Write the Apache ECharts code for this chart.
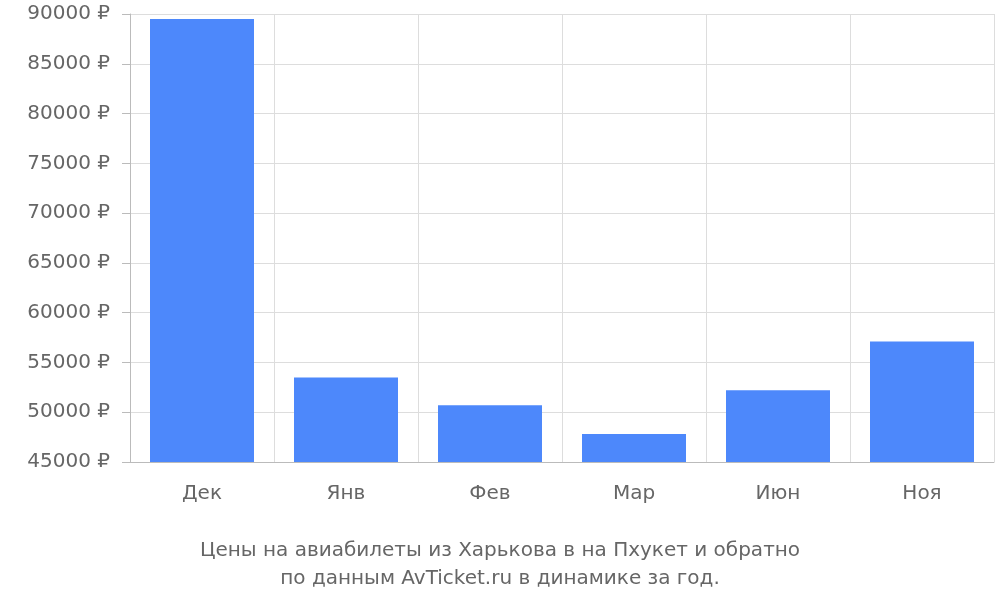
<!DOCTYPE html>
<html><head><meta charset="utf-8">
<script src="https://cdn.jsdelivr.net/npm/echarts@6/dist/echarts.min.js"></script>
<style>html,body{margin:0;padding:0;background:#fff}#c{width:1000px;height:600px}</style>
</head><body><div id="c"></div>
<script>
const categories = ['Дек','Янв','Фев','Мар','Июн','Ноя'];
const prices = [89500, 53500, 50700, 47800, 52200, 57100];
const titleLines = ['Цены на авиабилеты из Харькова в на Пхукет и обратно','по данным AvTicket.ru в динамике за год.'];
const chart = echarts.init(document.getElementById('c'));
const font = 'DejaVu Sans';
chart.setOption({
  animation:false,
  textStyle:{fontFamily:font},
  title:{text:titleLines.join('\n'),left:'center',top:532,textStyle:{fontFamily:font,fontSize:20,fontWeight:'normal',color:'#666',lineHeight:28}},
  grid:{left:130,right:6,top:14,bottom:138},
  xAxis:{type:'category',data:categories,boundaryGap:true,
    axisLine:{lineStyle:{color:'#bbb'}},
    axisTick:{length:18,lineStyle:{color:'#bbb'}},
    axisLabel:{fontSize:20,color:'#666',margin:22,fontFamily:font},
    splitLine:{show:true,lineStyle:{color:'#ddd'}}},
  yAxis:{type:'value',min:45000,max:90000,interval:5000,
    axisLine:{show:true,lineStyle:{color:'#bbb'}},
    axisTick:{show:true,length:8,lineStyle:{color:'#bbb'}},
    axisLabel:{fontSize:20,color:'#666',margin:20,fontFamily:font,formatter:v=>v+' ₽'},
    splitLine:{lineStyle:{color:'#ddd'}}},
  series:[{type:'bar',data:prices,barWidth:104,itemStyle:{color:'#4d88fb'}}]
});
</script></body></html>
